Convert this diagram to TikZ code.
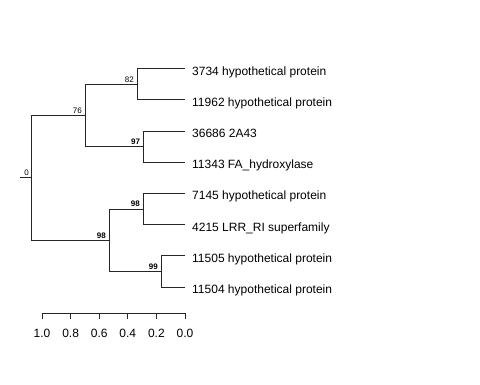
\documentclass[tikz,border=0pt]{standalone}
\usepackage{fontspec}
\setmainfont{Liberation Sans}
\usetikzlibrary{calc}
\begin{document}
\begin{tikzpicture}[x=1pt,y=-1pt,
  branch/.style={line width=0.75pt,black!85},
  leaflab/.style={anchor=base west,inner sep=0pt,font=\fontsize{12}{14}\selectfont},
  bootn/.style={anchor=south east,inner sep=0pt,font=\fontsize{8}{9}\selectfont},
  bootb/.style={bootn,font=\fontsize{8}{9}\selectfont\bfseries},
  axlab/.style={anchor=base,inner sep=0pt,font=\fontsize{12}{14}\selectfont}]
\useasboundingbox (0,0) rectangle (480,384);
% leaf tips
\foreach \n/\y in {a/68.5,b/99.7,c/130.9,d/162.2,e/193.4,f/224.6,g/255.8,h/287}
  \coordinate (t\n) at (185,\y);
% internal nodes
\coordinate (n82) at (137,84.1);
\coordinate (n97) at (143.3,146.55);
\coordinate (n76) at (85,115.3);
\coordinate (n98a) at (143,209);
\coordinate (n99) at (161,271.4);
\coordinate (n98b) at (109,240.2);
\coordinate (root) at (31,177.75);
\coordinate (r0) at (20,177.75);
% branches
\draw[branch] (r0) -- (root);
\draw[branch] (root) |- (n76);
\draw[branch] (root) |- (n98b);
\draw[branch] (n76) |- (n82);
\draw[branch] (n76) |- (n97);
\draw[branch] (n82) |- (ta);
\draw[branch] (n82) |- (tb);
\draw[branch] (n97) |- (tc);
\draw[branch] (n97) |- (td);
\draw[branch] (n98b) |- (n98a);
\draw[branch] (n98b) |- (n99);
\draw[branch] (n98a) |- (te);
\draw[branch] (n98a) |- (tf);
\draw[branch] (n99) |- (tg);
\draw[branch] (n99) |- (th);
% leaf labels
\node[leaflab] (la) at ([xshift=7pt,yshift=-6.5pt]ta) {3734 hypothetical protein};
\node[leaflab] (lb) at ([xshift=7pt,yshift=-6.5pt]tb) {11962 hypothetical protein};
\node[leaflab] (lc) at ([xshift=7pt,yshift=-6.5pt]tc) {36686 2A43};
\node[leaflab] (ld) at ([xshift=7pt,yshift=-6.5pt]td) {11343 FA\_hydroxylase};
\node[leaflab] (le) at ([xshift=7pt,yshift=-6.5pt]te) {7145 hypothetical protein};
\node[leaflab] (lf) at ([xshift=7pt,yshift=-6.5pt]tf) {4215 LRR\_RI superfamily};
\node[leaflab] (lg) at ([xshift=7pt,yshift=-6.5pt]tg) {11505 hypothetical protein};
\node[leaflab] (lh) at ([xshift=7pt,yshift=-6.5pt]th) {11504 hypothetical protein};
% bootstrap labels
\node[bootn] (b0) at ([xshift=-2pt,yshift=1.8pt]root) {0};
\node[bootn] (b76) at ([xshift=-3pt,yshift=1.8pt]n76) {76};
\node[bootn] (b82) at ([xshift=-3pt,yshift=1.8pt]n82) {82};
\node[bootb] (b97) at ([xshift=-3pt,yshift=1.8pt]n97) {97};
\node[bootb] (b98a) at ([xshift=-3pt,yshift=1.8pt]n98a) {98};
\node[bootb] (b99) at ([xshift=-3pt,yshift=1.8pt]n99) {99};
\node[bootb] (b98b) at ([xshift=-3pt,yshift=1.8pt]n98b) {98};
% scale axis
\coordinate (ax0) at (42,313);
\coordinate (ax1) at (185,313);
\draw[branch] (ax0) -- (ax1);
\foreach \i/\l in {0/1.0,1/0.8,2/0.6,3/0.4,4/0.2,5/0.0}{
  \coordinate (k\i) at ($(ax0)!\i/5!(ax1)$);
  \draw[branch] (k\i) -- ++(0,6);
  \node[axlab] (al\i) at ([yshift=-24.5pt]k\i) {\l};
}
\end{tikzpicture}
\end{document}
